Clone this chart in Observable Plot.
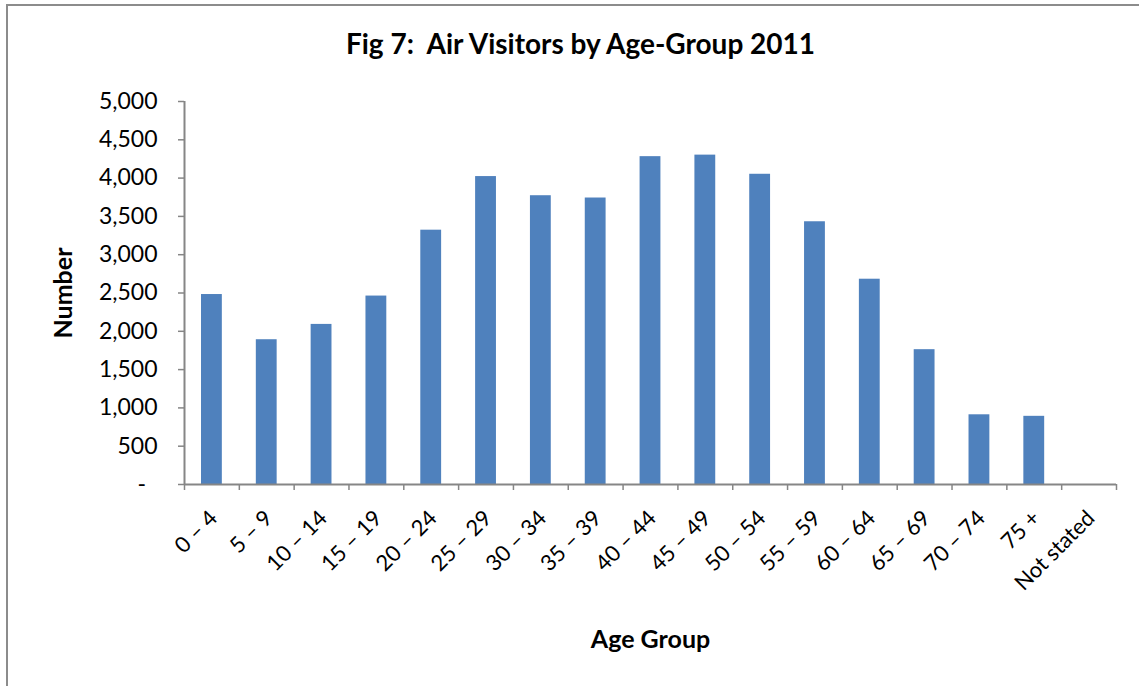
<!DOCTYPE html>
<html><head><meta charset="utf-8">
<script src="https://cdn.jsdelivr.net/npm/d3@7"></script>
<script src="https://cdn.jsdelivr.net/npm/@observablehq/plot@0.6"></script>
<style>
body{margin:0;background:#fff;}
#wrap{position:relative;width:1139px;height:686px;overflow:hidden;background:#fff;}
#border{position:absolute;left:6px;top:4px;width:1200px;height:800px;border-left:2px solid #8c8c8c;border-top:2px solid #8c8c8c;}
#chart{position:absolute;left:0;top:0;}
</style></head><body>
<div id="wrap"><div id="border"></div><div id="chart"></div></div>
<script>
const title = "Fig 7:  Air Visitors by Age-Group 2011";
const xLabel = "Age Group";
const yLabel = "Number";
const categories = ["0 – 4","5 – 9","10 – 14","15 – 19","20 – 24","25 – 29","30 – 34","35 – 39","40 – 44","45 – 49","50 – 54","55 – 59","60 – 64","65 – 69","70 – 74","75 +","Not stated"];
const values = [2480,1890,2090,2460,3320,4020,3770,3740,4280,4300,4050,3430,2680,1760,910,890,0];
const yTicks = [0,500,1000,1500,2000,2500,3000,3500,4000,4500,5000];

const W = 1139, H = 686, mL = 184, mR = 23, mT = 101, mB = 202;
const n = categories.length;
const step = (W - mL - mR) / n;
const data = categories.map((c, i) => ({group: c, value: values[i]}));
const gray = "#868686";
const font = "Lato, 'Open Sans', sans-serif";

const plot = Plot.plot({
  width: W, height: H,
  marginLeft: mL, marginRight: mR, marginTop: mT, marginBottom: mB,
  style: {fontFamily: font, background: "transparent", color: "#000", overflow: "visible"},
  x: {domain: categories, paddingInner: 0.62, paddingOuter: 0.31, round: false},
  y: {domain: [0, 5000]},
  marks: [
    Plot.barY(data, {x: "group", y: "value", fill: "#4F81BD"}),
    Plot.ruleY([0], {stroke: gray, strokeWidth: 2}),
    Plot.ruleX([categories[0]], {x: d => d, dx: -step / 2, stroke: gray, strokeWidth: 2}),
    Plot.axisY({
      ticks: yTicks,
      tickFormat: d => d === 0 ? "-\u2002" : d3.format(",")(d),
      tickSize: 6, tickPadding: 21, stroke: gray, strokeWidth: 1.5,
      fontSize: 23, label: null
    }),
    Plot.axisX({tickSize: 6, tickFormat: () => "", dx: -step / 2, stroke: gray, strokeWidth: 1.5, label: null}),
    Plot.axisX({ticks: [categories[n - 1]], tickSize: 6, tickFormat: () => "", dx: step / 2, stroke: gray, strokeWidth: 1.5, label: null}),
    Plot.axisX({tickSize: 0, tickPadding: 30, tickRotate: -45, fontSize: 22, dx: 2, label: null}),
    Plot.text([title], {text: d => d, frameAnchor: "top", lineAnchor: "middle", dx: 580 - (mL + (W - mR)) / 2, dy: 45 - mT, fontSize: 28, fontWeight: "bold"}),
    Plot.text([yLabel], {text: d => d, frameAnchor: "left", textAnchor: "middle", dx: 63 - mL, rotate: -90, fontSize: 25, fontWeight: "bold"}),
    Plot.text([xLabel], {text: d => d, frameAnchor: "bottom", lineAnchor: "middle", dy: 639 - (H - mB), fontSize: 25, fontWeight: "bold"})
  ]
});
document.getElementById("chart").appendChild(plot);
</script>
</body></html>
